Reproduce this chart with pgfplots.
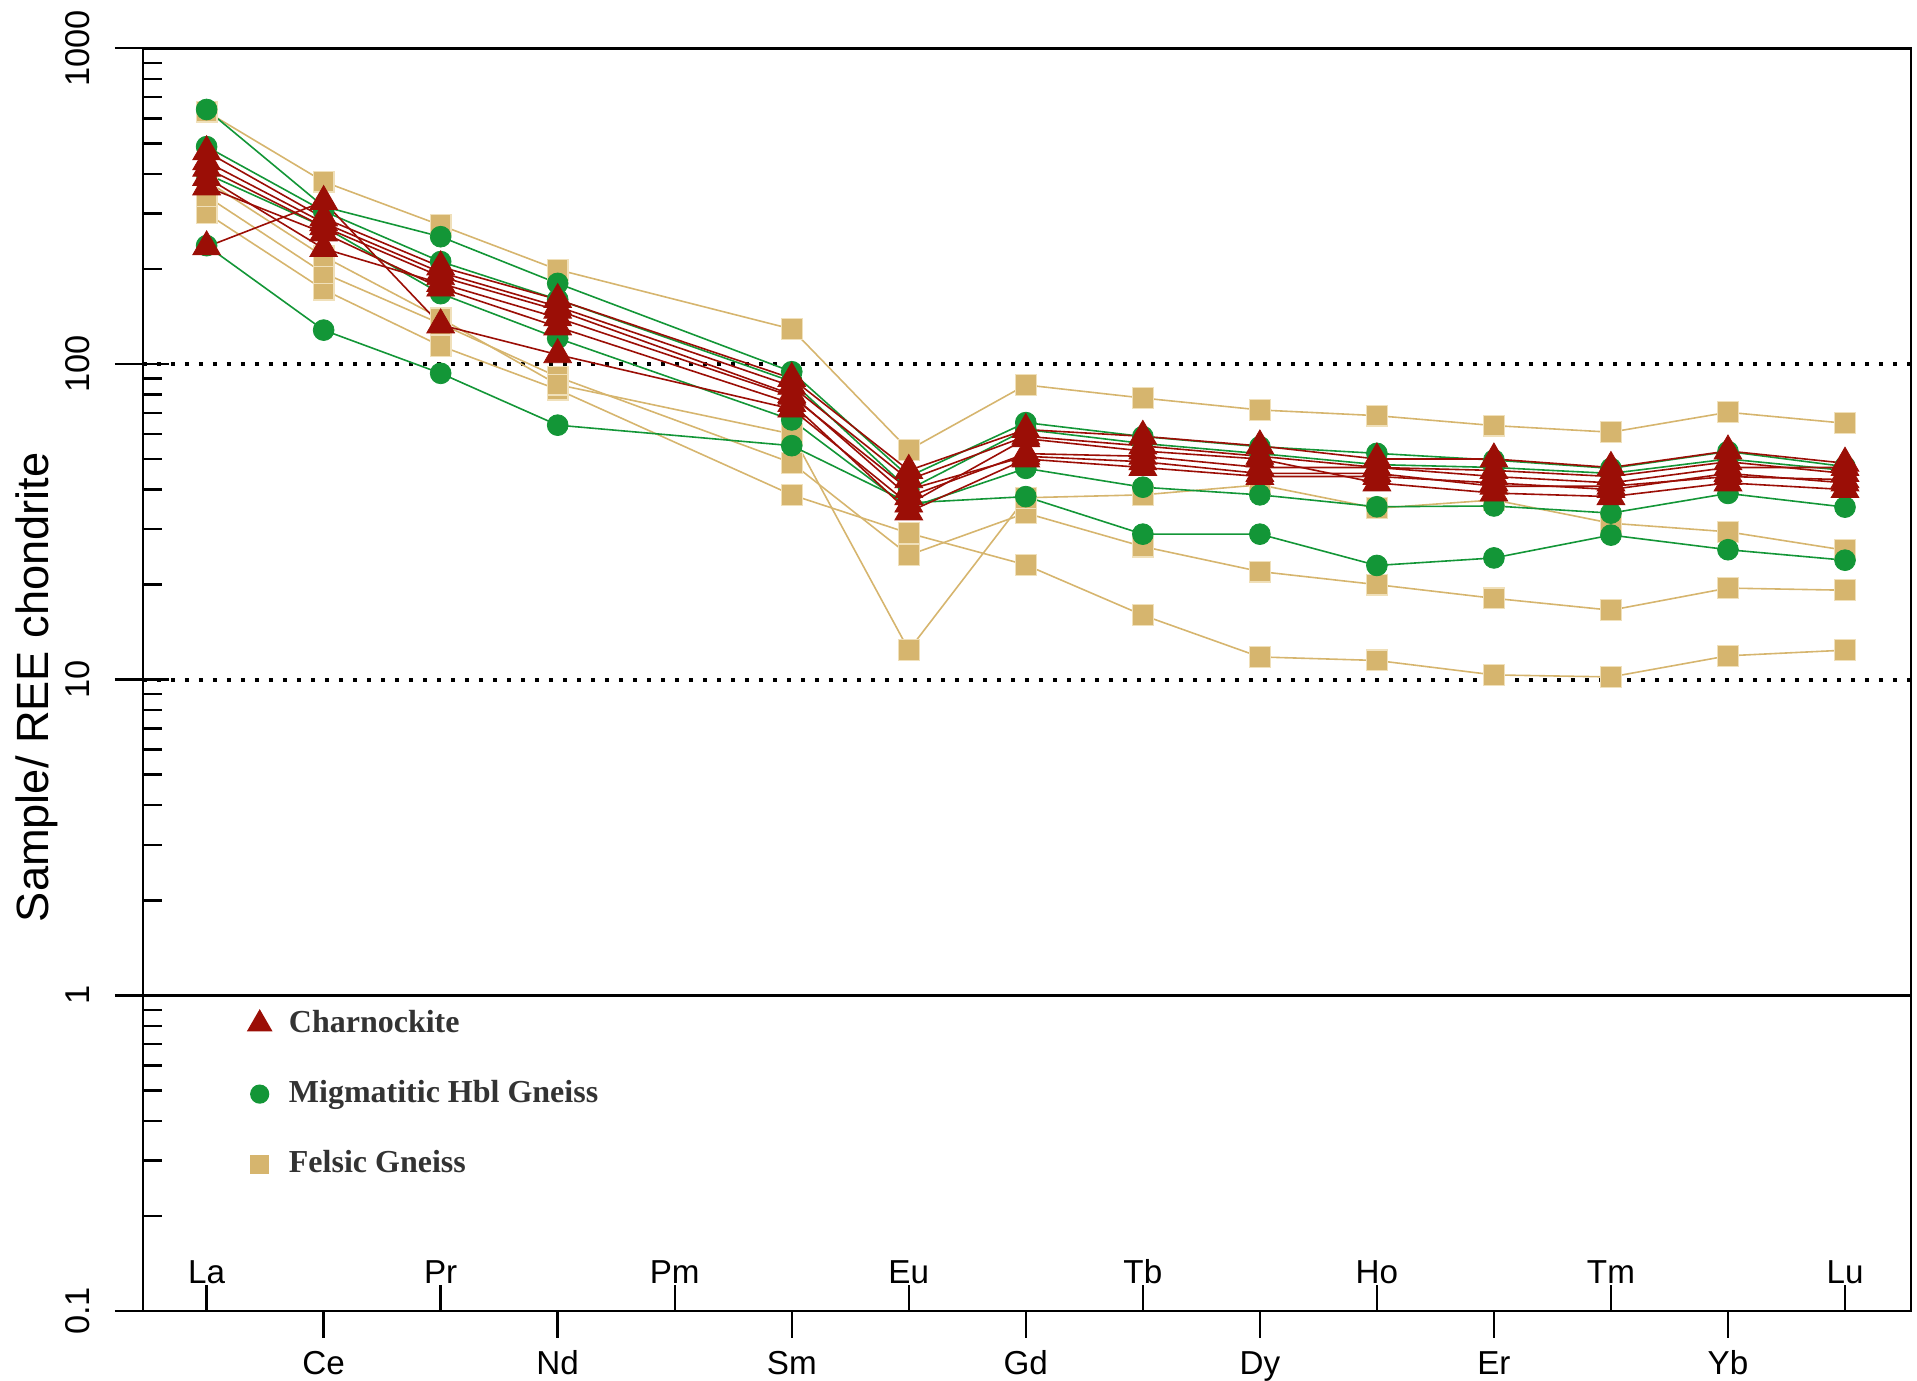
\documentclass[border=0pt]{standalone}
\usepackage{fontspec}
\setmainfont{Liberation Sans}
\newfontfamily\legendfont{Liberation Serif}
\usepackage{pgfplots}
\pgfplotsset{compat=1.18}

\definecolor{charn}{RGB}{155,14,6}
\definecolor{migm}{RGB}{19,150,55}
\definecolor{felsic}{RGB}{214,181,110}
\definecolor{felsicedge}{RGB}{240,224,186}

\pgfplotsset{
  charnplot/.style={color=charn, line width=0.4pt, mark=triangle*, mark size=4pt,
    mark options={solid, fill=charn, draw=charn, line width=0.2pt}, forget plot},
  migmplot/.style={color=migm, line width=0.4pt, mark=*, mark size=2.6pt,
    mark options={solid, fill=migm, draw=migm, line width=0.2pt}, forget plot},
  felsplot/.style={color=felsic, line width=0.4pt, mark=square*, mark size=2.6pt,
    mark options={solid, fill=felsic, draw=felsicedge, line width=0.3pt}, forget plot},
}

\begin{document}
\begin{tikzpicture}
\useasboundingbox (-35.75pt,-17.5pt) rectangle (443.5pt,327.75pt);
\begin{axis}[
  at={(0,0)}, anchor=south west,
  scale only axis, width=442pt, height=315.675pt,
  xmin=-0.5436, xmax=14.564,
  ymode=log, ymin=0.1, ymax=1000,
  axis line style={line width=0.7pt},
  tick style={black, line width=0.6pt},
  tick align=inside,
  major tick length=6.5pt, minor tick length=4.7pt,
  xtick pos=left, ytick pos=left,
  xtick={0,2,4,6,8,10,12,14},
  xticklabels={La,Pr,Pm,Eu,Tb,Ho,Tm,Lu},
  xticklabel style={font=\fontsize{8.3}{10}\selectfont, anchor=base, yshift=7pt, inner sep=0pt},
  extra x ticks={1,3,5,7,9,11,13},
  extra x tick labels={Ce,Nd,Sm,Gd,Dy,Er,Yb},
  extra x tick style={tick align=outside, major tick length=6.7pt,
    xticklabel style={yshift=-16.2pt}},
  ytick={0.1,1,10,100,1000},
  yticklabels={0.1,1,10,100,1000},
  minor ytick={0.2,0.3,0.4,0.5,0.6,0.7,0.8,0.9,2,3,4,5,6,7,8,9,20,30,40,50,60,70,80,90,200,300,400,500,600,700,800,900},
  yticklabel style={font=\fontsize{8.6}{10}\selectfont, xshift=-13.4pt, rotate=90, anchor=base, inner sep=0pt},
  extra y ticks={0.1,1,10,100,1000},
  extra y tick labels={},
  extra y tick style={tick align=outside, major tick length=7pt},
  ylabel={Sample/ REE chondrite},
  every axis y label/.style={at={(rel axis cs:0,0.494)}, xshift=-23.5pt, rotate=90, anchor=base,
    font=\fontsize{11.3}{13}\selectfont, inner sep=0pt},
  legend cell align=left,
  legend image code/.code={%
    \path[draw=none, fill=none] (0pt,-1pt) rectangle (9.3pt,1pt);
    \draw[mark repeat=2, mark phase=2, #1] plot coordinates {(0pt,0pt) (4pt,0pt) (8pt,0pt)};},
  legend style={at={(0.0565,0.2455)}, anchor=north west, draw=none, fill=none,
    font=\legendfont\bfseries\fontsize{8}{10}\selectfont, text=black!80, row sep=6.5pt,
    inner sep=0pt},
]

% reference levels
\addplot[black, line width=1pt, dash pattern=on 1pt off 2.5pt, forget plot] coordinates {(-0.5436,100) (14.564,100)};
\addplot[black, line width=1pt, dash pattern=on 1pt off 2.5pt, forget plot] coordinates {(-0.5436,10) (14.564,10)};
\addplot[black, line width=0.6pt, forget plot] coordinates {(-0.5436,1) (14.564,1)};

% Felsic gneiss (Pm not analysed)
\addplot[felsplot] coordinates {(0,630) (1,378) (2,275) (3,199) (5,129) (6,53.4) (7,85.8) (8,78) (9,71.5) (10,68.6) (11,63.8) (12,60.8) (13,70.3) (14,64.9)};
\addplot[felsplot] coordinates {(0,300) (1,172) (2,114) (3,83) (5,38.5) (6,29.1) (7,23.1) (8,16.0) (9,11.8) (10,11.5) (11,10.35) (12,10.2) (13,11.9) (14,12.4)};
\addplot[felsplot] coordinates {(0,340) (1,194) (2,134) (3,91) (5,48.6) (6,24.8) (7,33.7) (8,26.4) (9,22.0) (10,20.0) (11,18.1) (12,16.6) (13,19.5) (14,19.2)};
\addplot[felsplot] coordinates {(0,380) (1,219) (2,139.5) (3,86) (5,60) (6,12.4) (7,37.7) (8,38.5) (9,41.4) (10,34.9) (11,37.1) (12,31.3) (13,29.4) (14,25.7)};

% Migmatitic hornblende gneiss
\addplot[migmplot] coordinates {(0,640) (1,315) (2,253) (3,180) (5,94.5) (6,44) (7,65.2) (8,58.9) (9,54.7) (10,52.1) (11,49.6) (12,46.7) (13,52.8) (14,47.3)};
\addplot[migmplot] coordinates {(0,488) (1,305) (2,211) (3,160) (5,88) (6,40) (7,62) (8,56) (9,52) (10,48) (11,47) (12,45) (13,50) (14,46)};
\addplot[migmplot] coordinates {(0,400) (1,272) (2,167) (3,120.6) (5,66.5) (6,35) (7,46.7) (8,40.7) (9,38.5) (10,35.3) (11,35.5) (12,33.7) (13,38.9) (14,35.2)};
\addplot[migmplot] coordinates {(0,237) (1,128) (2,93.4) (3,64) (5,55.1) (6,36.3) (7,38) (8,28.9) (9,28.9) (10,23.0) (11,24.3) (12,28.7) (13,25.8) (14,23.9)};

% Charnockite
\addplot[charnplot] coordinates {(0,470) (1,290) (2,203) (3,160) (5,90) (6,46) (7,62) (8,59) (9,55) (10,50) (11,50) (12,47) (13,53) (14,48.5)};
\addplot[charnplot] coordinates {(0,437) (1,280) (2,195) (3,152) (5,85) (6,43) (7,59) (8,55) (9,51) (10,47) (11,46) (12,44) (13,49) (14,45)};
\addplot[charnplot] coordinates {(0,417) (1,272) (2,189) (3,148) (5,80) (6,38) (7,52) (8,51) (9,47) (10,47) (11,44) (12,42) (13,47) (14,47)};
\addplot[charnplot] coordinates {(0,364) (1,260) (2,174) (3,131) (5,75) (6,34) (7,50) (8,47) (9,44) (10,44) (11,42) (12,40) (13,45) (14,42)};
\addplot[charnplot] coordinates {(0,235) (1,327) (2,133) (3,107) (5,72) (6,36) (7,58) (8,53) (9,50) (10,42) (11,39) (12,38) (13,42) (14,40)};
\addplot[charnplot] coordinates {(0,390) (1,232) (2,180) (3,140) (5,79) (6,40) (7,51) (8,49) (9,45) (10,45) (11,41) (12,41) (13,44) (14,43)};

% legend
\addlegendimage{only marks, mark=triangle*, mark size=3.3pt, color=charn, fill=charn}
\addlegendentry{Charnockite}
\addlegendimage{only marks, mark=*, mark size=2.2pt, color=migm, fill=migm}
\addlegendentry{Migmatitic Hbl Gneiss}
\addlegendimage{only marks, mark=square*, mark size=2.2pt, color=felsic, fill=felsic}
\addlegendentry{Felsic Gneiss}
\end{axis}
\end{tikzpicture}
\end{document}
